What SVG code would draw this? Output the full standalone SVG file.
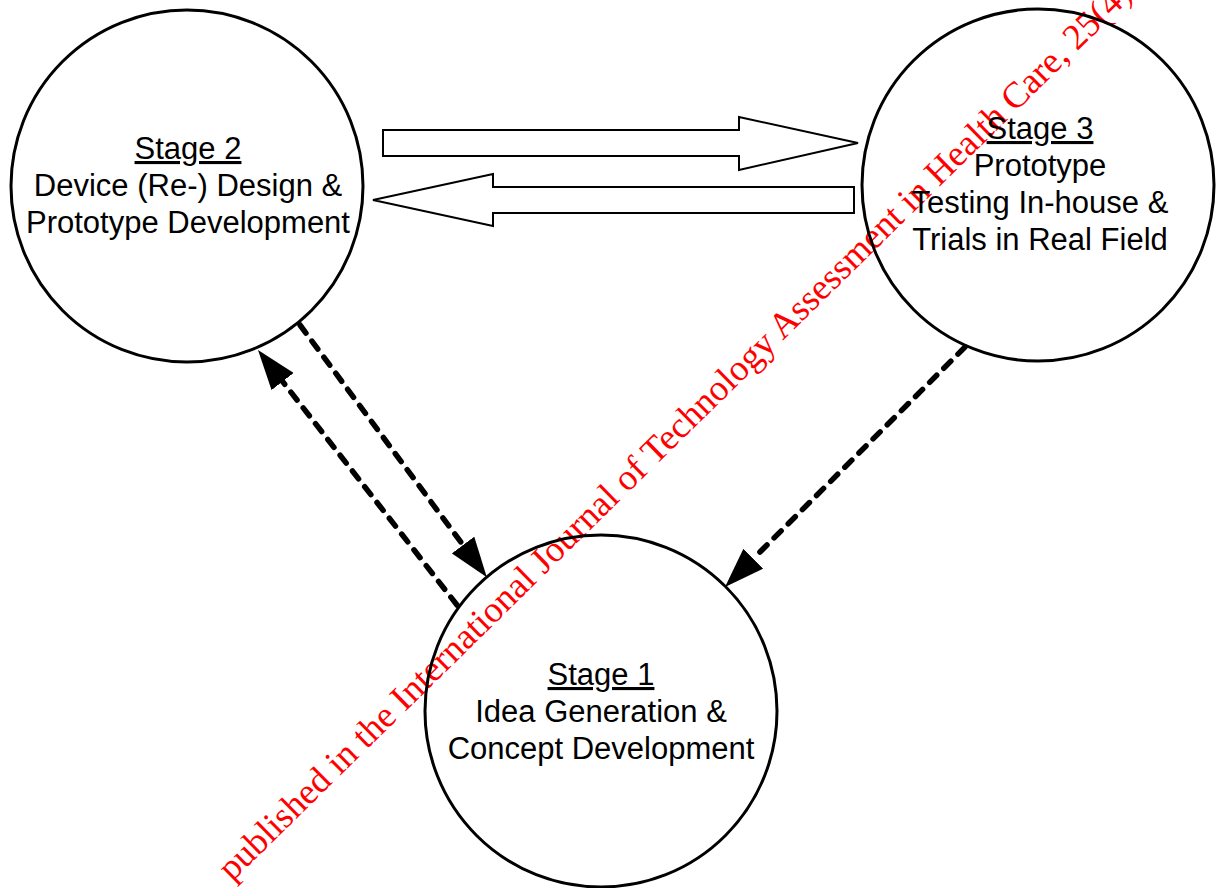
<svg xmlns="http://www.w3.org/2000/svg" width="1216" height="888" viewBox="0 0 1216 888">
<defs>
<style>
.node{fill:none;stroke:#000;stroke-width:3}
.lbl{font-family:"Liberation Sans",Arial,sans-serif;font-size:31px;fill:#000;text-anchor:middle}
.ul{text-decoration:underline}
.block{fill:#fff;stroke:#000;stroke-width:2;stroke-linejoin:miter}
.dash{fill:none;stroke:#000;stroke-width:5.5;stroke-dasharray:10 10;stroke-linecap:round}
.wm{font-family:"Liberation Serif","Times New Roman",serif;font-size:36.5px;fill:#ff0000}
</style>
<marker id="ah" viewBox="0 0 40 28" markerUnits="userSpaceOnUse" markerWidth="40" markerHeight="28" refX="0" refY="14" orient="auto">
<path d="M0,0 L40,14 L0,28 Z" fill="#000"/>
</marker>
</defs>
<rect width="1216" height="888" fill="#fff"/>
<g id="watermark">
<text class="wm" transform="translate(232,882) rotate(-44.5)">published in the International Journal of Technology Assessment in Health Care, 25(4)</text>
</g>
<g id="stage2">
<circle class="node" cx="187" cy="186" r="176"/>
<text class="lbl ul" x="188" y="159">Stage 2</text>
<text class="lbl" x="188" y="196">Device (Re-) Design &amp;</text>
<text class="lbl" x="188" y="233">Prototype Development</text>
</g>
<g id="stage3">
<circle class="node" cx="1038" cy="185" r="176"/>
<text class="lbl ul" x="1040" y="139">Stage 3</text>
<text class="lbl" x="1040" y="176">Prototype</text>
<text class="lbl" x="1040" y="213">Testing In-house &amp;</text>
<text class="lbl" x="1040" y="250">Trials in Real Field</text>
</g>
<g id="stage1">
<circle class="node" cx="601" cy="711" r="176"/>
<text class="lbl ul" x="601" y="685">Stage 1</text>
<text class="lbl" x="601" y="722">Idea Generation &amp;</text>
<text class="lbl" x="601" y="759">Concept Development</text>
</g>
<g id="connectors">
<path class="block" d="M383,130 L739,130 L739,117 L858,143 L739,170 L739,156 L383,156 Z"/>
<path class="block" d="M854,187 L493,187 L493,174 L373,200 L493,226 L493,213 L854,213 Z"/>
<line class="dash" x1="300" y1="325" x2="463" y2="545" marker-end="url(#ah)"/>
<line class="dash" x1="457" y1="605" x2="282.6" y2="381.5" marker-end="url(#ah)"/>
<line class="dash" x1="965" y1="347" x2="753.3" y2="558.7" marker-end="url(#ah)"/>
</g>
</svg>
